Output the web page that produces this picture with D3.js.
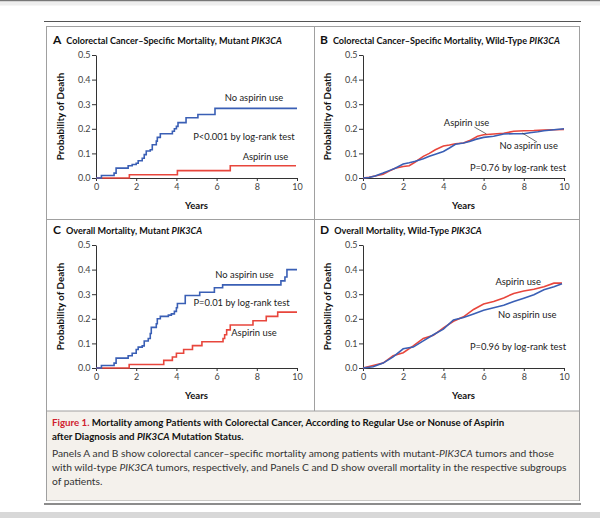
<!DOCTYPE html>
<html><head><meta charset="utf-8">
<script src="https://cdn.jsdelivr.net/npm/d3@7"></script>
<style>body{margin:0;background:#fff}svg{display:block;font-family:Lato,'Open Sans',sans-serif}</style>
</head><body><svg id="c" width="600" height="518"></svg>
<script>
const yearTicks=[0,2,4,6,8,10];
const probTicks=[0,0.1,0.2,0.3,0.4,0.5];
const seriesNames=["No aspirin use","Aspirin use"];

const aNoAspirin=[[0,0],[0.27,0.01],[0.9,0.02],[1.0,0.04],[1.6,0.05],[1.8,0.055],[2.0,0.06],[2.1,0.07],[2.3,0.08],[2.4,0.095],[2.5,0.11],[2.7,0.115],[2.8,0.135],[3.0,0.15],[3.05,0.165],[3.2,0.18],[3.8,0.19],[3.9,0.2],[4.0,0.21],[4.08,0.225],[4.48,0.245],[5.07,0.258],[5.92,0.283],[10,0.283]];
const aAspirin=[[0,0],[1.66,0.013],[4.05,0.03],[6.68,0.05],[9.95,0.05]];

const bNoAspirin=[[0,0],[0.3,0.002],[0.6,0.008],[1,0.02],[1.3,0.03],[1.6,0.04],[2,0.057],[2.3,0.062],[2.6,0.068],[3,0.078],[3.3,0.088],[3.6,0.097],[4,0.108],[4.3,0.122],[4.6,0.137],[5,0.142],[5.3,0.148],[5.6,0.157],[6,0.165],[6.5,0.17],[7,0.179],[7.5,0.18],[8,0.18],[8.3,0.184],[8.7,0.188],[9,0.192],[9.5,0.196],[10,0.2]];
const bAspirin=[[0,0],[0.3,0.003],[0.6,0.008],[1,0.015],[1.3,0.028],[1.6,0.04],[2,0.047],[2.3,0.05],[2.6,0.065],[3,0.088],[3.3,0.1],[3.6,0.115],[4,0.13],[4.3,0.134],[4.6,0.139],[5,0.142],[5.3,0.152],[5.7,0.17],[6,0.176],[6.5,0.179],[7,0.182],[7.5,0.19],[8,0.192],[8.5,0.193],[9,0.195],[9.5,0.196],[10,0.197]];

const cNoAspirin=[[0,0],[0.27,0.01],[0.9,0.02],[1.0,0.04],[1.6,0.05],[1.8,0.06],[2.0,0.075],[2.1,0.085],[2.3,0.09],[2.4,0.11],[2.6,0.12],[2.7,0.14],[2.75,0.165],[3.0,0.18],[3.05,0.2],[3.2,0.21],[3.6,0.215],[3.75,0.22],[3.9,0.23],[4.0,0.245],[4.05,0.262],[4.44,0.295],[5.16,0.308],[5.89,0.326],[6.3,0.338],[9.2,0.354],[9.4,0.37],[9.5,0.4],[10,0.4]];
const cAspirin=[[0,0],[1.65,0.014],[3.37,0.031],[3.8,0.045],[4.0,0.06],[4.36,0.075],[4.8,0.091],[5.27,0.107],[6.32,0.12],[6.4,0.135],[6.5,0.155],[6.68,0.175],[7.81,0.192],[8.47,0.21],[9.04,0.227],[10,0.227]];

const dNoAspirin=[[0,0],[0.5,0.005],[1,0.02],[1.5,0.045],[2,0.078],[2.5,0.085],[3,0.11],[3.5,0.135],[4,0.158],[4.5,0.195],[5,0.205],[5.5,0.22],[6,0.235],[6.5,0.245],[7,0.255],[7.5,0.27],[8,0.284],[8.5,0.298],[9,0.318],[9.5,0.33],[9.9,0.342]];
const dAspirin=[[0,0],[0.5,0.01],[1,0.02],[1.5,0.05],[2,0.062],[2.5,0.09],[3,0.12],[3.5,0.133],[4,0.163],[4.5,0.19],[5,0.208],[5.5,0.238],[6,0.26],[6.5,0.27],[7,0.285],[7.5,0.303],[8,0.313],[8.5,0.32],[9,0.33],[9.5,0.345],[9.9,0.345]];

const panelTitles=["Colorectal Cancer–Specific Mortality, Mutant ","Colorectal Cancer–Specific Mortality, Wild-Type ","Overall Mortality, Mutant ","Overall Mortality, Wild-Type "];
const panelLetters=["A","B","C","D"];
const pValues=["P<0.001 by log-rank test","P=0.76 by log-rank test","P=0.01 by log-rank test","P=0.96 by log-rank test"];

const BLUE="#3a5fb5", RED="#e8463c";
const svg=d3.select("#c");

// page chrome
svg.append("rect").attr("x",0).attr("y",0).attr("width",600).attr("height",1.5).attr("fill","#777");
svg.append("rect").attr("x",0).attr("y",1.5).attr("width",600).attr("height",4).attr("fill","#eeeeee");
svg.append("line").attr("x1",44).attr("x2",581).attr("y1",21.5).attr("y2",21.5).attr("stroke","#555").attr("stroke-width",1.2);
svg.append("rect").attr("x",46.5).attr("y",26.5).attr("width",533).attr("height",474).attr("fill","none").attr("stroke","#a0a0a0");
svg.append("line").attr("x1",314.5).attr("x2",314.5).attr("y1",26.5).attr("y2",411).attr("stroke","#a0a0a0");
svg.append("line").attr("x1",46.5).attr("x2",579.5).attr("y1",219.5).attr("y2",219.5).attr("stroke","#a0a0a0");
svg.append("rect").attr("x",47).attr("y",411).attr("width",532).attr("height",89.5).attr("fill","#f4f1ec");
svg.append("line").attr("x1",46.5).attr("x2",579.5).attr("y1",411).attr("y2",411).attr("stroke","#a0a0a0");
svg.append("line").attr("x1",44).attr("x2",581).attr("y1",504).attr("y2",504).attr("stroke","#666").attr("stroke-width",1.5);
svg.append("rect").attr("x",0).attr("y",512).attr("width",600).attr("height",6).attr("fill","#d8d8d8");

const panels=[
 {series:[aNoAspirin,aAspirin],step:true, ox:96, oy:55},
 {series:[bNoAspirin,bAspirin],step:false, ox:363, oy:55},
 {series:[cNoAspirin,cAspirin],step:true, ox:96, oy:245},
 {series:[dNoAspirin,dAspirin],step:false, ox:363, oy:245}
];
// label placements in data coordinates
const labelPos=[
 {no:[7.86,0.313,"middle"],asp:[8.43,0.073,"middle"],p:[7.36,0.154,"middle"]},
 {no:[8.24,0.118,"middle"],asp:[5.15,0.211,"middle"],p:[10.1,0.028,"end"],lead:[[[7.92,0.183],[8.66,0.146]],[[5.54,0.207],[6.14,0.179]]]},
 {no:[7.39,0.366,"middle"],asp:[7.86,0.13,"middle"],p:[7.24,0.252,"middle"]},
 {no:[8.17,0.203,"middle"],asp:[7.72,0.337,"middle"],p:[10.1,0.073,"end"]}
];
const W=201, H=123;

panels.forEach((p,i)=>{
  const g=svg.append("g").attr("transform",`translate(${p.ox},${p.oy})`);
  const x=d3.scaleLinear().domain([0,10]).range([0,W]);
  const y=d3.scaleLinear().domain([0,0.5]).range([H,0]);
  // title
  const t=g.append("text").attr("x",-43).attr("y",-11).attr("fill","#111");
  t.append("tspan").text(panelLetters[i]).attr("font-weight",700).attr("font-size",12);
  t.append("tspan").text(panelTitles[i]).attr("dx",5).attr("font-weight",700).attr("font-size",9.1);
  t.append("tspan").text("PIK3CA").attr("font-weight",700).attr("font-style","italic").attr("font-size",9.1);
  // axes
  const xa=g.append("g").attr("transform",`translate(0,${H})`).call(d3.axisBottom(x).tickValues(yearTicks).tickSize(3).tickSizeOuter(0).tickPadding(3));
  const ya=g.append("g").call(d3.axisLeft(y).tickValues(probTicks).tickFormat(d3.format(".1f")).tickSize(4).tickSizeOuter(0).tickPadding(1.5));
  [xa,ya].forEach(a=>{a.select(".domain").attr("stroke","#333");a.selectAll(".tick line").attr("stroke","#333");
    a.selectAll("text").attr("font-size",9).attr("fill","#444").attr("font-family","Lato,sans-serif");});
  g.append("text").attr("x",W/2).attr("y",H+31).attr("text-anchor","middle").attr("font-weight",700).attr("font-size",9.6).attr("fill","#111").text("Years");
  g.append("text").attr("transform",`translate(-32,${H/2}) rotate(-90)`).attr("text-anchor","middle").attr("font-weight",700).attr("font-size",9.8).attr("fill","#111").text("Probability of Death");
  // lines
  const line=d3.line().x(d=>x(d[0])).y(d=>y(d[1])).curve(p.step?d3.curveStepAfter:d3.curveLinear);
  [RED,BLUE].forEach((c,k)=>{
    const s = k===0 ? p.series[1] : p.series[0];
    g.append("path").datum(s).attr("d",line).attr("fill","none").attr("stroke",c).attr("stroke-width",1.6);
  });
  const lp=labelPos[i];
  const lab=(pos,txt)=>g.append("text").attr("x",x(pos[0])).attr("y",y(pos[1])).attr("text-anchor",pos[2]).attr("font-size",9.4).attr("fill","#222").text(txt);
  lab(lp.no,seriesNames[0]); lab(lp.asp,seriesNames[1]); lab(lp.p,pValues[i]);
  if(lp.lead) lp.lead.forEach(l=>g.append("line").attr("x1",x(l[0][0])).attr("y1",y(l[0][1])).attr("x2",x(l[1][0])).attr("y2",y(l[1][1])).attr("stroke","#333").attr("stroke-width",0.7));
});

// caption
const cap=svg.append("g");
const l1=cap.append("text").attr("x",52).attr("y",426).attr("font-weight",700).attr("font-size",9.7).attr("fill","#111");
l1.append("tspan").attr("fill","#d0202e").text("Figure 1. ");
l1.append("tspan").text("Mortality among Patients with Colorectal Cancer, According to Regular Use or Nonuse of Aspirin");
const l2=cap.append("text").attr("x",52).attr("y",440).attr("font-weight",700).attr("font-size",9.7).attr("fill","#111");
l2.append("tspan").text("after Diagnosis and ");
l2.append("tspan").attr("font-style","italic").text("PIK3CA");
l2.append("tspan").text(" Mutation Status.");
const body=cap.append("g").attr("font-size",10.25).attr("fill","#333");
const b1=body.append("text").attr("x",52).attr("y",457);
b1.append("tspan").text("Panels A and B show colorectal cancer–specific mortality among patients with mutant-");
b1.append("tspan").attr("font-style","italic").text("PIK3CA");
b1.append("tspan").text(" tumors and those");
const b2=body.append("text").attr("x",52).attr("y",471);
b2.append("tspan").text("with wild-type ");
b2.append("tspan").attr("font-style","italic").text("PIK3CA");
b2.append("tspan").text(" tumors, respectively, and Panels C and D show overall mortality in the respective subgroups");
body.append("text").attr("x",52).attr("y",485).text("of patients.");
</script></body></html>
